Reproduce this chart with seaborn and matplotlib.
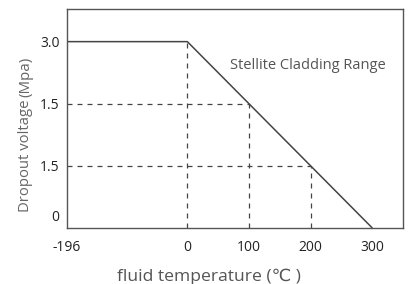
import matplotlib
matplotlib.use('Agg')
import matplotlib.pyplot as plt
import matplotlib.transforms as mtransforms
import pandas as pd
import seaborn as sns

# Curve points (temperature, pressure)
temps = [-196, 0, 300]
pressure = [3.0, 3.0, 0.0]

# Guide points
guide_x = [0, 100, 200]
guide_y = [3.0, 2.0, 1.0]

x_ticks = [-196, 0, 100, 200, 300]
x_labels = ['-196', '0', '100', '200', '300']
y_ticks = [0, 1, 2, 3]
y_labels = ['0', '1.5', '1.5', '3.0']

sns.set_style('white')
plt.rcParams['font.family'] = ['Open Sans', 'DejaVu Sans']

fig, ax = plt.subplots(figsize=(4.09, 2.84), dpi=100)
fig.subplots_adjust(left=0.163, right=0.985, top=0.967, bottom=0.198)

df = pd.DataFrame({'temp': temps, 'pressure': pressure})
sns.lineplot(data=df, x='temp', y='pressure', ax=ax, color='#444444', lw=1.1)

# Dashed guides
for gx, gy in zip(guide_x, guide_y):
    ax.plot([gx, gx], [0, gy], ls=(0, (4, 4)), color='#444444', lw=0.9)
for gx, gy in zip(guide_x[1:], guide_y[1:]):
    ax.plot([temps[0], gx], [gy, gy], ls=(0, (4, 4)), color='#444444', lw=0.9)

ax.text(69, 2.62, 'Stellite Cladding Range', fontsize=10.5, color='#555555',
        ha='left', va='center')

ax.set_xlim(-196, 350)
ax.set_ylim(0, 3.52)
ax.set_xticks(x_ticks)
ax.set_xticklabels(x_labels)
ax.set_yticks(y_ticks)
ax.set_yticklabels(y_labels)
ax.tick_params(axis='both', length=0, labelsize=10, labelcolor='#222222')
ax.tick_params(axis='x', pad=9)
ax.tick_params(axis='y', pad=5)

# the "0" label sits a bit above the axis
lab0 = ax.get_yticklabels()[0]
lab0.set_transform(lab0.get_transform() + mtransforms.ScaledTranslation(0, 9 / 72, fig.dpi_scale_trans))

ax.set_xlabel('fluid temperature (℃ )', fontsize=12.6, color='#555555')
ax.xaxis.set_label_coords(0.423, -0.185)
ax.set_ylabel('')

# y label in two sizes, second part placed right after the first
t1 = fig.text(0.072, 0.2535, 'Dropout voltage', rotation=90, rotation_mode='anchor',
              fontsize=10.7, color='#666666', ha='left', va='baseline')
fig.canvas.draw()
bb = t1.get_window_extent()
fig.text(0.072, (bb.y1 + 3) / fig.bbox.height, '(Mpa)', rotation=90, rotation_mode='anchor',
         fontsize=10.8, color='#666666', ha='left', va='baseline')

for s in ax.spines.values():
    s.set_color('#555555')
    s.set_linewidth(1.0)

fig.savefig('out.png', dpi=100)
